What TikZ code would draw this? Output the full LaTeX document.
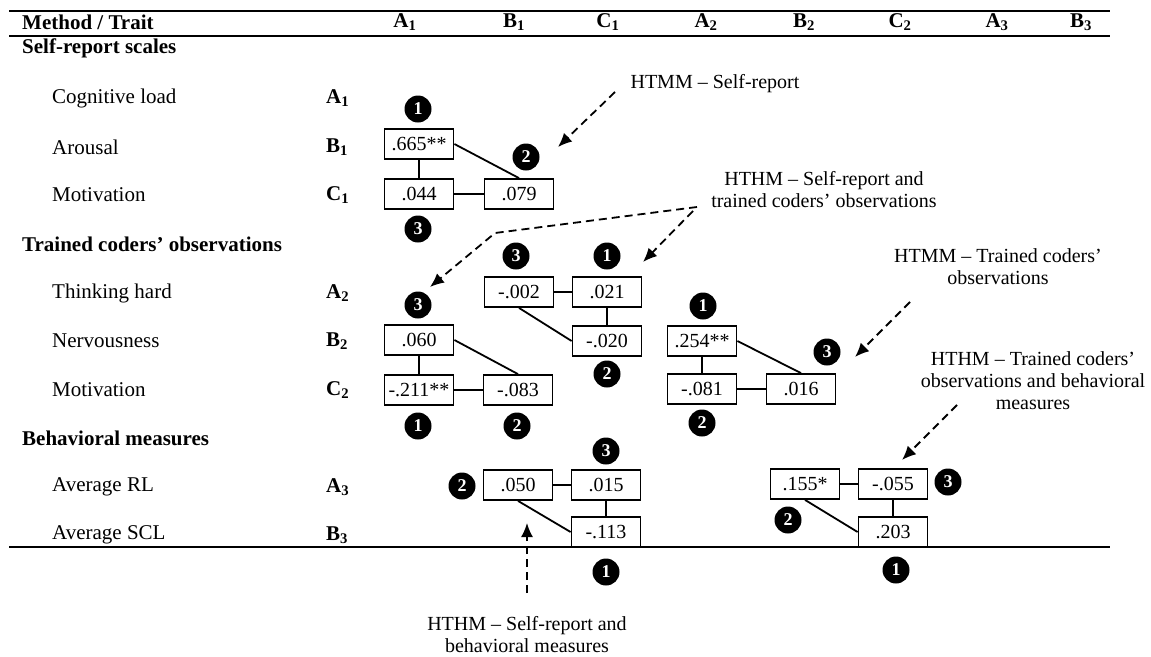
\documentclass[tikz,border=0pt]{standalone}
\usepackage{fontspec}
\setmainfont{Liberation Serif}
\usetikzlibrary{arrows.meta}
\begin{document}
\begin{tikzpicture}[x=1pt,y=-1pt,
  vbox/.style={draw,line width=1.8pt,minimum width=69pt,minimum height=30pt,inner sep=0pt,font=\fontsize{20}{24}\selectfont},
  num/.style={circle,fill=black,minimum size=27pt,inner sep=0pt,text=white,font=\fontsize{18}{18}\selectfont\bfseries},
  link/.style={line width=1.8pt},
  ptr/.style={line width=1.8pt,dash pattern=on 8pt off 5pt,-{Latex[length=14pt,width=12pt]}},
  rulethick/.style={line width=1.6pt},
  rulethin/.style={line width=1.3pt},
  lab/.style={anchor=west,inner sep=0pt,font=\fontsize{21}{24}\selectfont},
  sec/.style={anchor=west,inner sep=0pt,font=\fontsize{21}{24}\selectfont\bfseries},
  code/.style={anchor=west,inner sep=0pt,font=\fontsize{21}{24}\selectfont\bfseries},
  head/.style={font=\fontsize{21}{24}\selectfont\bfseries},
  note/.style={align=center,font=\fontsize{20}{24}\selectfont}
]
\useasboundingbox (0,0) rectangle (1151,656);

% table rules
\coordinate (rtl) at (9,11);   \coordinate (rtr) at (1110,11);
\coordinate (rml) at (9,36);   \coordinate (rmr) at (1110,36);
\coordinate (rbl) at (9,547);  \coordinate (rbr) at (1110,547);
\draw[rulethick] (rtl) -- (rtr);
\draw[rulethin] (rml) -- (rmr);
\draw[rulethin] (rbl) -- (rbr);

% header
\node[sec] (hmt) at (22,22) {Method / Trait};
\node[head] (hA1) at (405,22) {A\textsubscript{1}};
\node[head] (hB1) at (514,22) {B\textsubscript{1}};
\node[head] (hC1) at (608,22) {C\textsubscript{1}};
\node[head] (hA2) at (706,22) {A\textsubscript{2}};
\node[head] (hB2) at (804,22) {B\textsubscript{2}};
\node[head] (hC2) at (900,22) {C\textsubscript{2}};
\node[head] (hA3) at (997,22) {A\textsubscript{3}};
\node[head] (hB3) at (1081,22) {B\textsubscript{3}};

% sections and rows
\node[sec] (s1) at (22,48) {Self-report scales};
\node[lab] (r1) at (52,98) {Cognitive load};
\node[lab] (r2) at (52,147) {Arousal};
\node[lab] (r3) at (52,195) {Motivation};
\node[sec] (s2) at (22,244) {Trained coders’ observations};
\node[lab] (r4) at (52,293) {Thinking hard};
\node[lab] (r5) at (52,341) {Nervousness};
\node[lab] (r6) at (52,390) {Motivation};
\node[sec] (s3) at (22,438) {Behavioral measures};
\node[lab] (r7) at (52,487) {Average RL};
\node[lab] (r8) at (52,535) {Average SCL};

\node[code] (k1) at (326,98) {A\textsubscript{1}};
\node[code] (k2) at (326,147) {B\textsubscript{1}};
\node[code] (k3) at (326,195) {C\textsubscript{1}};
\node[code] (k4) at (326,293) {A\textsubscript{2}};
\node[code] (k5) at (326,341) {B\textsubscript{2}};
\node[code] (k6) at (326,390) {C\textsubscript{2}};
\node[code] (k7) at (326,487) {A\textsubscript{3}};
\node[code] (k8) at (326,535) {B\textsubscript{3}};

% block 1: HTMM self-report
\node[vbox] (b665) at (419,144) {.665**};
\node[vbox] (b044) at (419,194) {.044};
\node[vbox] (b079) at (519,194) {.079};
\draw[link] (b665.south) -- (b044.north);
\draw[link] (b044.east) -- (b079.west);
\draw[link] (b665.east) -- (b079.north);
\node[num] (n1a) at (418,109) {1};
\node[num] (n1b) at (526,157) {2};
\node[num] (n1c) at (418,229) {3};

% block 2
\node[vbox] (b060) at (419,340) {.060};
\node[vbox] (b211) at (419,390) {-.211**};
\node[vbox] (b083) at (518,390) {-.083};
\draw[link] (b060.south) -- (b211.north);
\draw[link] (b211.east) -- (b083.west);
\draw[link] (b060.east) -- (b083.north);
\node[num] (n2a) at (418,305) {3};
\node[num] (n2b) at (418,426) {1};
\node[num] (n2c) at (517,426) {2};

% block 3
\node[vbox] (b002) at (519,292) {-.002};
\node[vbox] (b021) at (607,292) {.021};
\node[vbox] (b020) at (607,341) {-.020};
\draw[link] (b002.east) -- (b021.west);
\draw[link] (b021.south) -- (b020.north);
\draw[link] (b002.south) -- (b020.west);
\node[num] (n3a) at (516,256) {3};
\node[num] (n3b) at (607,256) {1};
\node[num] (n3c) at (607,374) {2};

% block 4
\node[vbox] (b254) at (702,341) {.254**};
\node[vbox] (b081) at (702,389) {-.081};
\node[vbox] (b016) at (801,389) {.016};
\draw[link] (b254.south) -- (b081.north);
\draw[link] (b081.east) -- (b016.west);
\draw[link] (b254.east) -- (b016.north);
\node[num] (n4a) at (703,306) {1};
\node[num] (n4b) at (827,352) {3};
\node[num] (n4c) at (702,423) {2};

% block 5
\node[vbox] (b050) at (518,485) {.050};
\node[vbox] (b015) at (606,485) {.015};
\node[vbox] (b113) at (606,532) {-.113};
\draw[link] (b050.east) -- (b015.west);
\draw[link] (b015.south) -- (b113.north);
\draw[link] (b050.south) -- (b113.west);
\node[num] (n5a) at (606,451) {3};
\node[num] (n5b) at (462,486) {2};
\node[num] (n5c) at (606,572) {1};

% block 6
\node[vbox] (b155) at (805,484) {.155*};
\node[vbox] (b055) at (893,484) {-.055};
\node[vbox] (b203) at (893,532) {.203};
\draw[link] (b155.east) -- (b055.west);
\draw[link] (b055.south) -- (b203.north);
\draw[link] (b155.south) -- (b203.west);
\node[num] (n6a) at (948,482) {3};
\node[num] (n6b) at (788,520) {2};
\node[num] (n6c) at (896,570) {1};

% annotations
\node[note] (t1) at (715,84) {HTMM -- Self-report};
\node[note] (t2) at (824,190) {HTHM -- Self-report and\\[-2pt]trained coders’ observations};
\node[note] (t3) at (998,267) {HTMM -- Trained coders’\\[-2pt]observations};
\node[note] (t4) at (1033,381) {HTHM -- Trained coders’\\[-2pt]observations and behavioral\\[-2pt]measures};
\node[note] (t5) at (527,635) {HTHM -- Self-report and\\[-2pt]behavioral measures};

% pointers
\coordinate (p1s) at (615,92);  \coordinate (p1e) at (558,147);
\draw[ptr] (p1s) -- (p1e);
\coordinate (p2s) at (697,207); \coordinate (p2m) at (495,233); \coordinate (p2e) at (430,287);
\draw[ptr] (p2s) -- (p2m) -- (p2e);
\coordinate (p2t) at (693,211); \coordinate (p2f) at (643,262);
\draw[ptr] (p2t) -- (p2f);
\coordinate (p3s) at (910,302); \coordinate (p3e) at (855,357);
\draw[ptr] (p3s) -- (p3e);
\coordinate (p4s) at (957,405); \coordinate (p4e) at (902,460);
\draw[ptr] (p4s) -- (p4e);
\coordinate (p5s) at (527,593); \coordinate (p5e) at (527,523);
\draw[ptr] (p5s) -- (p5e);
\end{tikzpicture}
\end{document}
